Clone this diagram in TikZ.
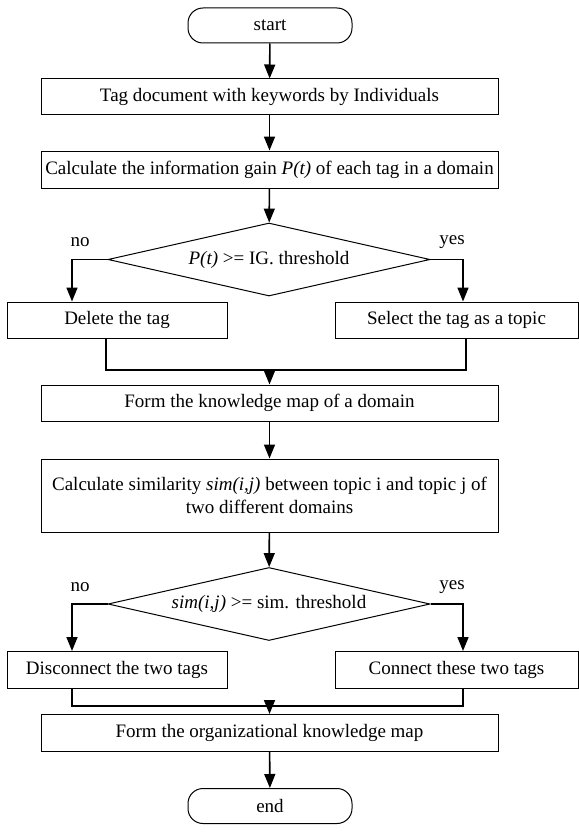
\documentclass[tikz,border=0pt]{standalone}
\usepackage{fontspec}
\setmainfont{Liberation Serif}
\usetikzlibrary{shapes.geometric, arrows.meta, positioning, calc}

\tikzset{
  stepbox/.style={draw, line width=1pt, inner sep=0pt, align=center, font=\fontsize{19}{23}\selectfont},
  termbox/.style={draw, line width=1pt, rounded corners=15pt, minimum width=164pt, minimum height=35pt, font=\fontsize{19}{23}\selectfont},
  testbox/.style={draw, diamond, aspect=4.4, line width=1pt, minimum width=322pt, minimum height=73pt, inner sep=0pt, font=\fontsize{19}{23}\selectfont},
  answer/.style={font=\fontsize{19}{23}\selectfont},
  flow/.style={-{Triangle[length=14pt,width=11pt]}, line width=1.6pt},
  mergeline/.style={line width=1.6pt}
}

\begin{document}
\begin{tikzpicture}[x=1pt, y=-1pt]
  \useasboundingbox (0,0) rectangle (578,832);

  % Start
  \node[termbox] (start) at (270, 25.5) {start};

  % Tagging and information gain
  \node[stepbox, minimum width=457pt, minimum height=36pt] (tag) at (269.5, 97) {Tag document with keywords by Individuals};
  \node[stepbox, minimum width=457pt, minimum height=37pt] (gain) at (269.5, 169.5) {Calculate the information gain \textit{P(t)} of each tag in a domain};
  \draw[flow] (start) -- (tag);
  \draw[flow] (tag) -- (gain);

  % First decision
  \node[testbox] (igtest) at (269, 259.5) {\textit{P(t)} >= IG. threshold};
  \draw[flow] (gain) -- (igtest);
  \node[answer] (igno) at (80, 242) {no};
  \node[answer] (igyes) at (452, 242) {yes};

  \node[stepbox, minimum width=220pt, minimum height=36pt] (del) at (117, 320) {Delete the tag};
  \node[stepbox, minimum width=243pt, minimum height=36pt] (sel) at (456.5, 320) {Select the tag as a topic};
  \draw[flow] (igtest.west) -| ([xshift=-45pt]del.north);
  \draw[flow] (igtest.east) -| ([xshift=6.5pt]sel.north);

  % Merge into domain map
  \coordinate (merge1) at (269.5, 370);
  \node[stepbox, minimum width=457pt, minimum height=36pt] (dmap) at (269.5, 403) {Form the knowledge map of a domain};
  \draw[mergeline] ([xshift=-11pt]del.south) |- (merge1) -| ([xshift=9.5pt]sel.south);
  \draw[flow] (merge1) -- (dmap);

  % Similarity
  \node[stepbox, minimum width=457pt, minimum height=73pt] (simcalc) at (269.5, 495.5) {Calculate similarity \textit{sim(i,j)} between topic i and topic j of\\two different domains};
  \draw[flow] (dmap) -- (simcalc);

  % Second decision
  \node[testbox] (simtest) at (269, 604) {\textit{sim(i,j)} >= sim. threshold};
  \draw[flow] (simcalc) -- (simtest);
  \node[answer] (simno) at (80, 587) {no};
  \node[answer] (simyes) at (452, 587) {yes};

  \node[stepbox, minimum width=220pt, minimum height=37pt] (discon) at (117, 670) {Disconnect the two tags};
  \node[stepbox, minimum width=243pt, minimum height=37pt] (con) at (456.5, 670) {Connect these two tags};
  \draw[flow] (simtest.west) -| ([xshift=-45pt]discon.north);
  \draw[flow] (simtest.east) -| ([xshift=6.5pt]con.north);

  % Merge into organizational map
  \coordinate (merge2) at (269.5, 706);
  \node[stepbox, minimum width=457pt, minimum height=37pt] (omap) at (269.5, 733) {Form the organizational knowledge map};
  \draw[mergeline] ([xshift=-45pt]discon.south) |- (merge2) -| ([xshift=6.5pt]con.south);
  \draw[flow] (merge2) -- (omap);

  % End
  \node[termbox] (end) at (270, 806) {end};
  \draw[flow] (omap) -- (end);
\end{tikzpicture}
\end{document}
